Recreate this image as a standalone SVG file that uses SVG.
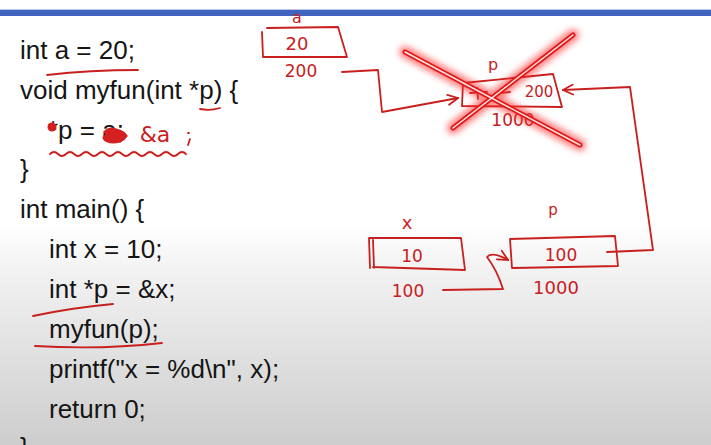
<svg xmlns="http://www.w3.org/2000/svg" width="711" height="445" viewBox="0 0 711 445">
<defs>
<linearGradient id="bg" x1="0" y1="0" x2="0" y2="1">
<stop offset="0" stop-color="#ffffff"/>
<stop offset="0.5" stop-color="#ffffff"/>
<stop offset="0.62" stop-color="#f1f1f1"/>
<stop offset="1" stop-color="#cdcdcd"/>
</linearGradient>
<filter id="glow" x="-20%" y="-20%" width="140%" height="140%">
<feGaussianBlur stdDeviation="3"/>
</filter>
<marker id="ah" viewBox="0 0 12 12" refX="11" refY="6" markerWidth="12" markerHeight="12" markerUnits="userSpaceOnUse" orient="auto">
<path d="M1,1 L11,6 L1,11" fill="none" stroke="#c8201e" stroke-width="1.8" stroke-linecap="round"/>
</marker>
<style>
.code{font-family:"Liberation Sans",Arial,sans-serif;font-size:26px;fill:#151515}
.hw{font-family:"DejaVu Sans","Liberation Sans",sans-serif;fill:#c8201e;text-anchor:middle}
.ink{fill:none;stroke:#c8201e;stroke-width:1.8;stroke-linecap:round;stroke-linejoin:round}
</style>
</defs>
<rect x="0" y="0" width="711" height="445" fill="url(#bg)"/>
<rect x="0" y="9" width="711" height="1" fill="#b9c8ea"/>
<rect x="0" y="10" width="711" height="6" fill="#4064bf"/>

<g id="code">
<text class="code" x="20" y="59">int a = 20;</text>
<text class="code" x="20" y="99">void myfun(int *p) {</text>
<text class="code" x="48" y="139">*p = a;</text>
<text class="code" x="20" y="178">}</text>
<text class="code" x="20" y="218">int main() {</text>
<text class="code" x="49" y="258">int x = 10;</text>
<text class="code" x="49" y="298">int *p = &amp;x;</text>
<text class="code" x="49" y="338">myfun(p);</text>
<text class="code" x="49" y="378">printf("x = %d\n", x);</text>
<text class="code" x="49" y="418">return 0;</text>
<text class="code" x="20" y="456">}</text>
</g>

<g id="code-annotations">
<path class="ink" d="M47,75 Q90,70 138,70" stroke-width="2"/>
<path class="ink" d="M200,109 Q210,111 220,108" stroke-width="2.2"/>
<circle cx="52" cy="127" r="4.5" fill="#d42020"/>
<path d="M104,133 q6,-6 12,-3 q8,2 10,6 q-4,6 -12,6 q-8,0 -10,-4 q2,-4 8,-4 q6,1 6,3" fill="#d42020" stroke="#d42020" stroke-width="3"/>
<text class="hw" x="155" y="142" font-size="22">&amp;a</text>
<path class="ink" d="M188,133 l1,0 M190,139 l-2,6"/>
<path class="ink" d="M50,154 q4,-4 8,0 t8,0 t8,0 t8,0 t8,0 t8,0 t8,0 t8,0 t8,0 t8,0 t8,0 t8,0 t8,0 t8,0 t8,0 t8,0 t8,0"/>
<path class="ink" d="M33,316 Q70,308 113,304"/>
<path class="ink" d="M35,346 Q100,350 162,343"/>
</g>

<g id="node-a">
<text class="hw" x="297" y="23" font-size="16">a</text>
<path class="ink" d="M262,32 L263,57 M267,28 L338,27 L347,57 L263,57"/>
<text class="hw" x="297" y="50" font-size="18">20</text>
<text class="hw" x="301" y="77" font-size="17">200</text>
</g>

<g id="node-p-old">
<text class="hw" x="493" y="70" font-size="16">p</text>
<path class="ink" d="M463,83 L553,74 L562,107 L462,106 Z"/>
<path class="ink" d="M470,93 L487,92 M477,88 L478,99 M500,93 L510,92"/>
<text class="hw" x="539" y="97" font-size="15">200</text>
<text class="hw" x="513" y="126" font-size="17">1000</text>
</g>

<g id="node-x">
<text class="hw" x="407" y="229" font-size="18">x</text>
<path class="ink" d="M369,238 L370,268 M373,240 L374,268 M369,238 L461,238 L465,270 L373,267"/>
<text class="hw" x="412" y="262" font-size="17">10</text>
<text class="hw" x="408" y="297" font-size="17">100</text>
</g>

<g id="node-p">
<text class="hw" x="553" y="215" font-size="15">p</text>
<path class="ink" d="M510,239 L512,268 M510,239 L615,236 L618,266 L513,268"/>
<text class="hw" x="561" y="261" font-size="17">100</text>
<text class="hw" x="556" y="294" font-size="18">1000</text>
</g>

<g id="connectors">
<path class="ink" d="M342,72 L378,70 L382,112 L458,98" marker-end="url(#ah)"/>
<path class="ink" d="M443,290 L503,289 Q497,270 487,257 Q492,251 508,260" marker-end="url(#ah)"/>
<path class="ink" d="M607,252 L653,250 L630,87 L563,90" marker-end="url(#ah)"/>
</g>

<g id="cross">
<path d="M405,52 L580,145 M573,35 L453,128" stroke="#ff2a2a" stroke-width="12" stroke-linecap="round" opacity="0.6" filter="url(#glow)" fill="none"/>
<path d="M405,52 L580,145 M573,35 L453,128" stroke="#e41818" stroke-width="5" stroke-linecap="round" fill="none"/>
<path d="M405,52 L580,145 M573,35 L453,128" stroke="#ffe8e8" stroke-width="1.5" stroke-linecap="round" fill="none"/>
</g>
</svg>
